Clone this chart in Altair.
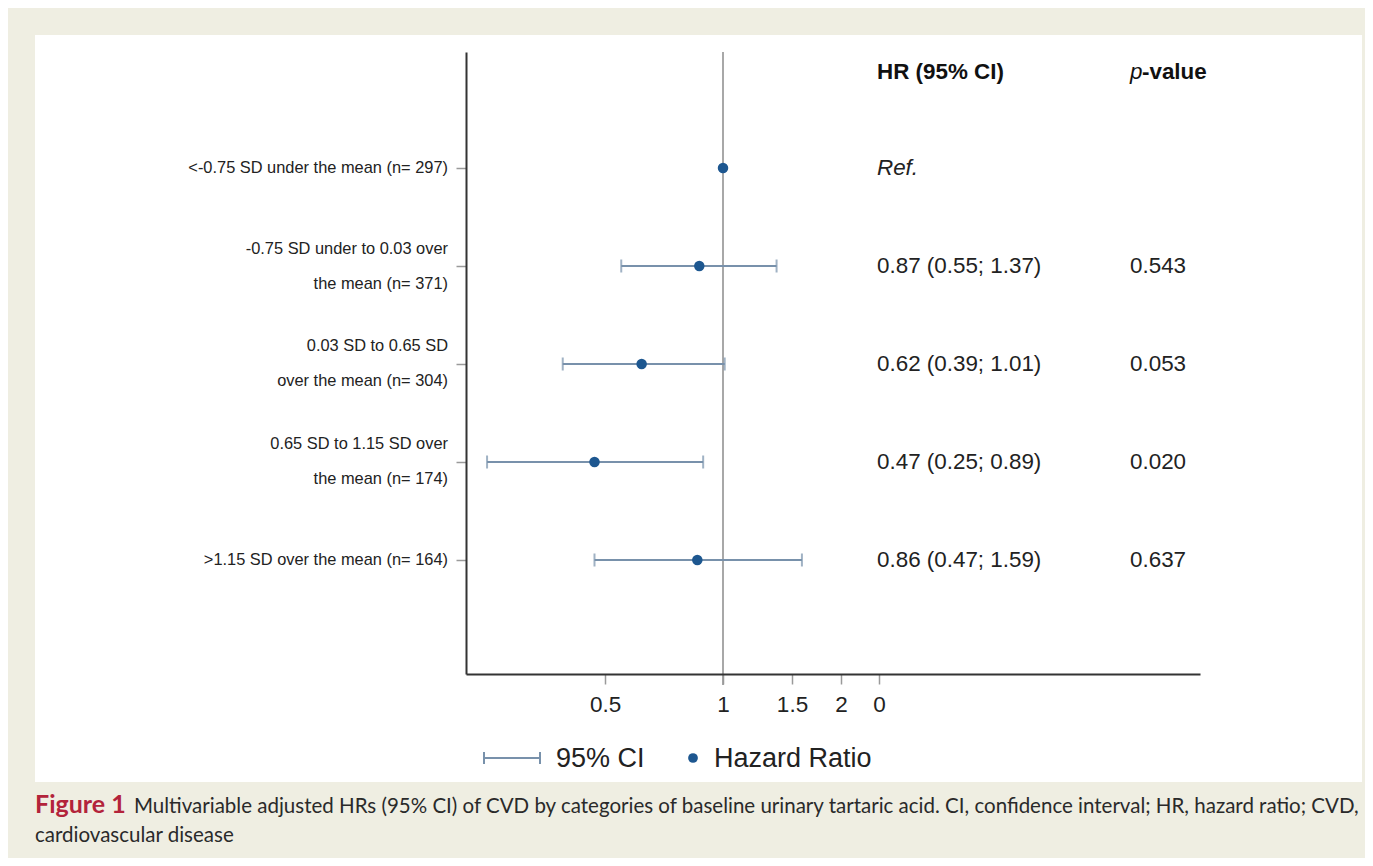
import altair as alt
import pandas as pd

# ---------------- data ----------------
row_labels = [
    ["<-0.75 SD under the mean (n= 297)"],
    ["-0.75 SD under to 0.03 over", "the mean (n= 371)"],
    ["0.03 SD to 0.65 SD", "over the mean (n= 304)"],
    ["0.65 SD to 1.15 SD over", "the mean (n= 174)"],
    [">1.15 SD over the mean (n= 164)"],
]
hazard_ratio = [1.00, 0.87, 0.62, 0.47, 0.86]
ci_low = [None, 0.55, 0.39, 0.25, 0.47]
ci_high = [None, 1.37, 1.01, 0.89, 1.59]
hr_text = ["Ref.", "0.87 (0.55; 1.37)", "0.62 (0.39; 1.01)", "0.47 (0.25; 0.89)", "0.86 (0.47; 1.59)"]
p_text = ["", "0.543", "0.053", "0.020", "0.637"]
x_tick_values = [0.5, 1, 1.5, 2, 2.5]
x_tick_labels = ["0.5", "1", "1.5", "2", "0"]
caption_bold = "Figure 1"
caption_line1 = ("Multivariable adjusted HRs (95% CI) of CVD by categories of baseline urinary "
                 "tartaric acid. CI, confidence interval; HR, hazard ratio; CVD,")
caption_line2 = "cardiovascular disease"

rows = list(range(1, len(hazard_ratio) + 1))
df = pd.DataFrame({
    "row": rows,
    "label": row_labels,
    "nlines": [len(l) for l in row_labels],
    "hr": hazard_ratio,
    "lo": ci_low,
    "hi": ci_high,
    "hr_text": hr_text,
    "p_text": p_text,
})
one = pd.DataFrame({"row": [0]})

FONT = "Liberation Sans"
BAR_COLOR = "#7891ab"
DOT_COLOR = "#1d5790"
TXT = "#222222"
COL_FS = 22.4

label_expr = " : ".join(
    f"datum.value == {v} ? '{t}'" for v, t in zip(x_tick_values, x_tick_labels)
) + " : ''"

xscale = alt.Scale(type="log", domain=[0.2209, 16.49], nice=False)
yscale = alt.Scale(domain=[-0.1837, 6.1633], reverse=True, nice=False, zero=False)

xaxis = alt.Axis(values=x_tick_values, labelExpr=label_expr, title=None, grid=False,
                 tickSize=10, tickColor="#9a9a9a", tickWidth=1.5,
                 domainColor="#333333", domainWidth=2,
                 labelFontSize=22.5, labelFont=FONT, labelColor=TXT,
                 labelPadding=9, labelFlush=False, labelOverlap=False, zindex=1)
yaxis = alt.Axis(values=rows, labels=False, title=None, grid=False,
                 tickSize=10, tickColor="#9a9a9a", tickWidth=1.5,
                 domainColor="#333333", domainWidth=2, zindex=1)

Y = alt.Y("row:Q", scale=yscale, axis=yaxis)

# white panel
panel = alt.Chart(one).mark_rect(color="white").encode(
    x=alt.value(-431), x2=alt.value(896), y=alt.value(-17), y2=alt.value(730)
)

# reference line at HR = 1
ref_line = alt.Chart(one).mark_rule(color="#a8a8a8", strokeWidth=2).encode(
    x=alt.X(datum=1, type="quantitative", scale=xscale, axis=xaxis),
    y=alt.value(0), y2=alt.value(633)
)

ci_rule = alt.Chart(df).transform_filter("isValid(datum.lo)").mark_rule(
    color=BAR_COLOR, strokeWidth=2
).encode(
    x=alt.X("lo:Q", scale=xscale, axis=xaxis), x2="hi:Q", y=Y
)

ci_caps = alt.Chart(df).transform_filter("isValid(datum.lo)").transform_fold(
    ["lo", "hi"], as_=["end", "value"]
).mark_tick(orient="vertical", size=13, thickness=2, color=BAR_COLOR).encode(
    x=alt.X("value:Q", scale=xscale, axis=xaxis), y=Y
)

points = alt.Chart(df).mark_circle(size=110, color=DOT_COLOR, opacity=1).encode(
    x=alt.X("hr:Q", scale=xscale, axis=xaxis), y=Y
)

y_labels_1 = alt.Chart(df).transform_filter("datum.nlines == 1").mark_text(
    align="right", baseline="middle", fontSize=16.4, lineHeight=35, font=FONT, color=TXT
).encode(x=alt.value(-18), y=Y, text="label:N")

y_labels_2 = alt.Chart(df).transform_filter("datum.nlines == 2").mark_text(
    align="right", baseline="middle", fontSize=16.4, lineHeight=35, font=FONT, color=TXT, dy=-17.5
).encode(x=alt.value(-18), y=Y, text="label:N")

hr_col = alt.Chart(df).transform_filter("datum.row > 1").mark_text(
    align="left", baseline="middle", fontSize=COL_FS, font=FONT, color=TXT
).encode(x=alt.value(411), y=Y, text="hr_text:N")

ref_col = alt.Chart(df).transform_filter("datum.row == 1").mark_text(
    align="left", baseline="middle", fontSize=COL_FS, font=FONT, fontStyle="italic", color=TXT
).encode(x=alt.value(411), y=Y, text="hr_text:N")

p_col = alt.Chart(df).transform_filter("datum.row > 1").mark_text(
    align="left", baseline="middle", fontSize=COL_FS, font=FONT, color=TXT
).encode(x=alt.value(664), y=Y, text="p_text:N")

head_hr = alt.Chart(one).mark_text(
    align="left", baseline="middle", fontSize=COL_FS, font=FONT, fontWeight="bold", color="#111111", dy=2
).encode(x=alt.value(411), y=alt.Y("row:Q", scale=yscale, axis=yaxis), text=alt.value("HR (95% CI)"))

head_p = alt.Chart(one).mark_text(
    align="left", baseline="middle", fontSize=COL_FS, font=FONT, fontStyle="italic", color="#111111", dy=2
).encode(x=alt.value(664), y=alt.Y("row:Q", scale=yscale, axis=yaxis), text=alt.value("p"))

head_value = alt.Chart(one).mark_text(
    align="left", baseline="middle", fontSize=COL_FS, font=FONT, fontWeight="bold", color="#111111", dy=2
).encode(x=alt.value(676), y=alt.Y("row:Q", scale=yscale, axis=yaxis), text=alt.value("-value"))

# legend (drawn)
leg_line = alt.Chart(one).mark_rule(color=BAR_COLOR, strokeWidth=2).encode(
    x=alt.value(18), x2=alt.value(74), y=alt.value(706)
)
leg_cap1 = alt.Chart(one).mark_rule(color=BAR_COLOR, strokeWidth=2).encode(
    x=alt.value(18), y=alt.value(700), y2=alt.value(712)
)
leg_cap2 = alt.Chart(one).mark_rule(color=BAR_COLOR, strokeWidth=2).encode(
    x=alt.value(74), y=alt.value(700), y2=alt.value(712)
)
leg_t1 = alt.Chart(one).mark_text(
    align="left", baseline="middle", fontSize=27, font=FONT, color=TXT
).encode(x=alt.value(90), y=alt.value(707), text=alt.value("95% CI"))
leg_dot = alt.Chart(one).mark_circle(size=95, color=DOT_COLOR, opacity=1).encode(
    x=alt.value(227), y=alt.value(706)
)
leg_t2 = alt.Chart(one).mark_text(
    align="left", baseline="middle", fontSize=27, font=FONT, color=TXT
).encode(x=alt.value(248), y=alt.value(707), text=alt.value("Hazard Ratio"))

# caption
cap_bold = alt.Chart(one).mark_text(
    align="left", baseline="alphabetic", fontSize=25, font="Lato", fontWeight="bold", color="#b3233b"
).encode(x=alt.value(-431), y=alt.value(761), text=alt.value(caption_bold))
cap_1 = alt.Chart(one).mark_text(
    align="left", baseline="alphabetic", fontSize=20.5, font="Lato", color="#2a2a2a"
).encode(x=alt.value(-332), y=alt.value(761), text=alt.value(caption_line1))
cap_2 = alt.Chart(one).mark_text(
    align="left", baseline="alphabetic", fontSize=20.5, font="Lato", color="#2a2a2a"
).encode(x=alt.value(-431), y=alt.value(790), text=alt.value(caption_line2))

chart = alt.layer(
    panel, ref_line, ci_rule, ci_caps, points, y_labels_1, y_labels_2, hr_col, ref_col, p_col,
    head_hr, head_p, head_value, leg_line, leg_cap1, leg_cap2, leg_t1, leg_dot, leg_t2,
    cap_bold, cap_1, cap_2
).properties(
    width=734, height=622,
    autosize=alt.AutoSizeParams(type="none"),
    padding={"left": 458, "top": 44, "right": 165, "bottom": 184},
    background="#efeee2",
).configure_view(stroke=None)

chart.save("out.html", embed_options={"renderer": "svg", "actions": False})
